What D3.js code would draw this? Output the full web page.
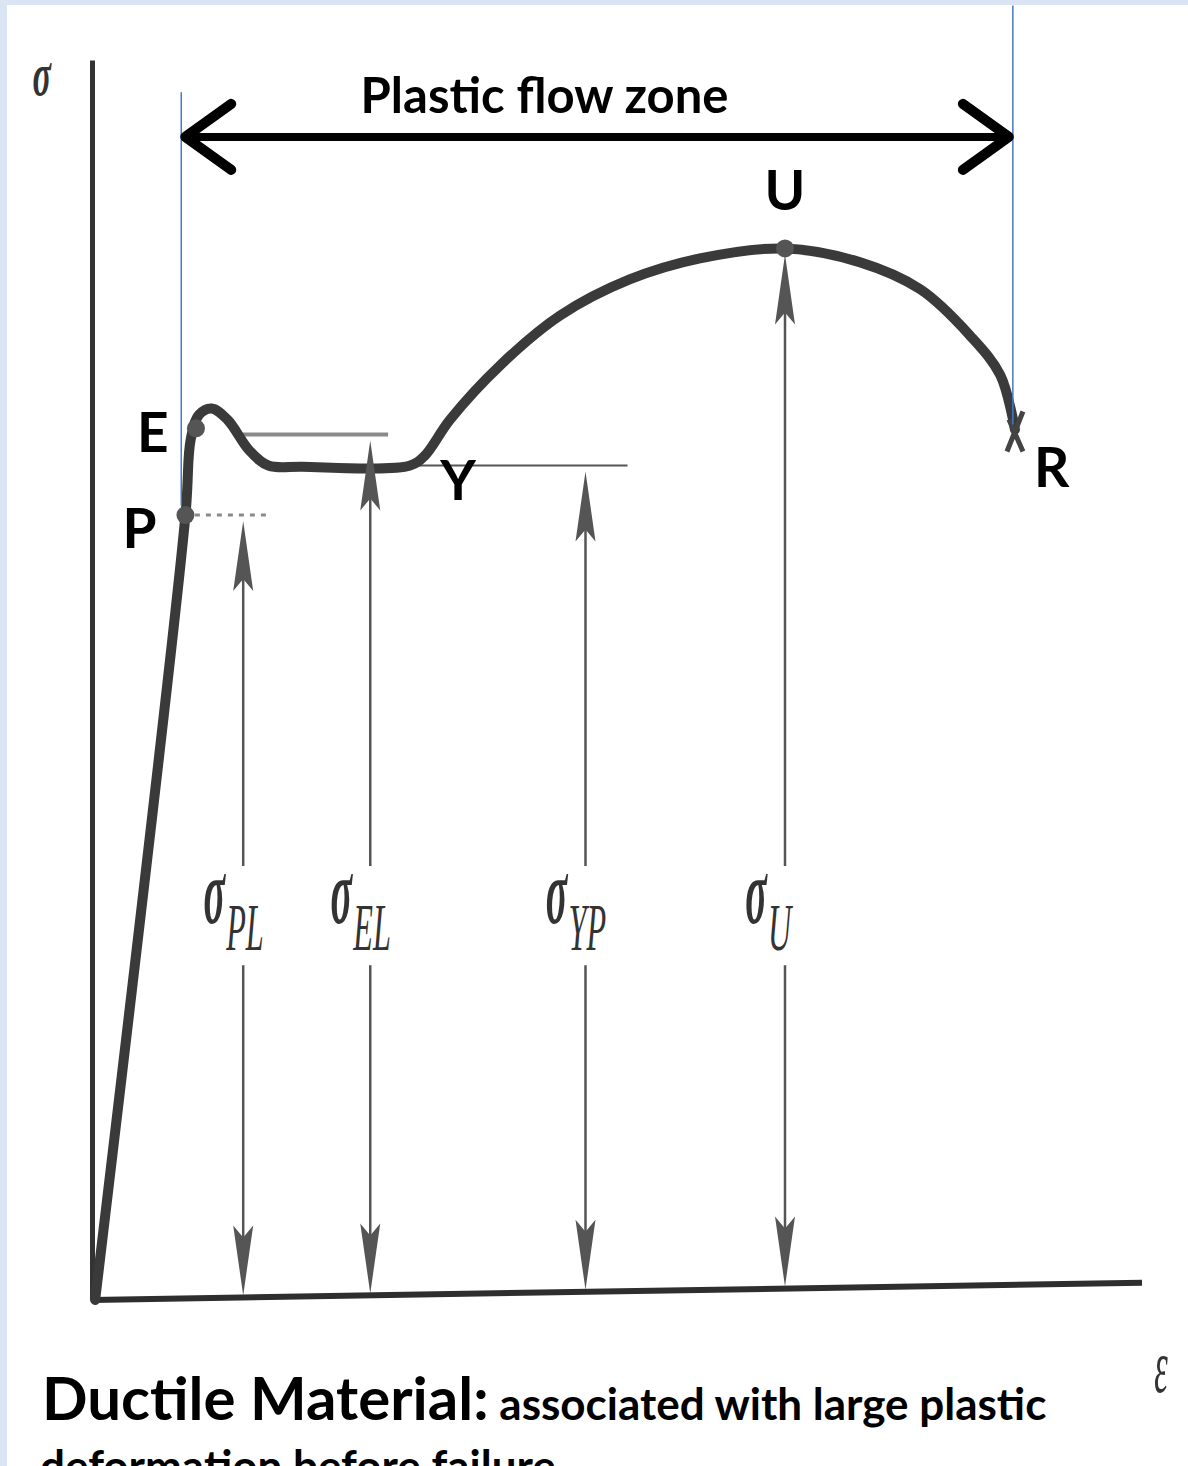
<!DOCTYPE html>
<html>
<head>
<meta charset="utf-8">
<script src="https://cdn.jsdelivr.net/npm/d3@7"></script>
<style>
  html, body { margin: 0; padding: 0; background: #dbe4f5; overflow: hidden; }
  svg { display: block; }
</style>
</head>
<body>
<div id="chart"></div>
<script>
// Stress-strain curve of a ductile material (strain, stress in arbitrary units)
const curveStrain = [0.3, 8.9, 9.4, 10.2, 11.4, 12.9, 15.0, 16.8, 20.0, 30.3, 31.7, 34.1, 38.9, 44.6, 51.2, 57.9, 66.0, 73.1, 78.9, 83.6, 86.5, 87.9];
const curveStress = [0, 63.3, 69.4, 71.4, 71.9, 71.0, 68.5, 67.3, 67.2, 67.3, 68.1, 71.0, 75.4, 79.4, 82.3, 84.0, 84.8, 83.7, 81.5, 77.8, 74.6, 70.2];

// Marked points on the curve
const pointNames = ['P', 'E', 'Y', 'U', 'R'];
const pointStrain = [8.9, 9.9, 30.3, 66.0, 87.9];
const pointStress = [63.3, 70.3, 67.3, 84.8, 70.2];

// Stress levels with their double arrows
const levelNames = ['PL', 'EL', 'YP', 'U'];
const levelStrain = [14.4, 26.5, 47.0, 66.0];
const levelStress = [63.3, 69.8, 67.3, 84.8];

// Plastic flow zone limits (strain)
const flowZone = [8.5, 87.7];
const flowLabel = 'Plastic flow zone';

const captionTitle = 'Ductile Material:';
const captionLine1 = ' associated with large plastic';
const captionLine2 = 'deformation before failure';

const width = 1188;
const height = 1466;

const svg = d3.select('#chart')
  .append('svg')
  .attr('width', width)
  .attr('height', height);

// light blue frame on the left and top, white page inside
svg.append('rect')
  .attr('x', 7).attr('y', 5)
  .attr('width', width - 7).attr('height', height - 5)
  .attr('fill', '#ffffff');

const x = d3.scaleLinear().domain([0, 100]).range([92, 1142]);
const y = d3.scaleLinear().domain([0, 100]).range([1300, 60]);

// strain axis leans up a little to the right in the scan
const axisLift = 1.4;
const axisY = s => y(axisLift * s / 100);

const ink = '#3a3a3a';
const serif = '"Liberation Serif", "DejaVu Serif", serif';
const sans = 'Lato, "Open Sans", sans-serif';

// stress axis
svg.append('g')
  .attr('transform', `translate(${x(0)},0)`)
  .call(d3.axisLeft(y).tickValues([]).tickSizeOuter(0))
  .call(g => g.select('.domain').attr('stroke', '#333').attr('stroke-width', 5));

// strain axis
svg.append('path')
  .datum([0, 100])
  .attr('d', d3.line().x(d => x(d)).y(d => axisY(d)))
  .attr('stroke', '#2e2e2e')
  .attr('stroke-width', 6)
  .attr('fill', 'none');

// axis symbols
svg.append('text')
  .attr('transform', `translate(${x(-4.8)},${y(97.2)}) scale(0.95,1.7)`)
  .attr('text-anchor', 'middle')
  .style('font-family', serif)
  .style('font-style', 'italic')
  .style('font-weight', 700)
  .style('font-size', '36px')
  .attr('fill', '#333')
  .text('σ');

svg.append('text')
  .attr('transform', `translate(${x(101.8)},${y(-7.4)}) scale(0.9,2.0)`)
  .attr('text-anchor', 'middle')
  .style('font-family', serif)
  .style('font-style', 'italic')
  .style('font-size', '38px')
  .attr('fill', '#333')
  .text('ε');

// horizontal reference lines at each stress level
const refLines = [
  { s: levelStress[0], x0: 9.8, x1: 17.1, dash: '5,6', w: 3, c: '#8a8a8a' },
  { s: levelStress[1], x0: 14.1, x1: 28.2, dash: null, w: 4, c: '#8a8a8a' },
  { s: levelStress[2], x0: 30.8, x1: 51.0, dash: null, w: 2, c: '#555' }
];
svg.selectAll('.ref')
  .data(refLines)
  .enter().append('line')
  .attr('class', 'ref')
  .attr('x1', d => x(d.x0)).attr('x2', d => x(d.x1))
  .attr('y1', d => y(d.s)).attr('y2', d => y(d.s))
  .attr('stroke', d => d.c)
  .attr('stroke-width', d => d.w)
  .attr('stroke-dasharray', d => d.dash);

// the curve
const curve = curveStrain.map((s, i) => ({ e: s, s: curveStress[i] }));
svg.append('path')
  .datum(curve)
  .attr('d', d3.line().x(d => x(d.e)).y(d => y(d.s)).curve(d3.curveCatmullRom.alpha(0.5)))
  .attr('fill', 'none')
  .attr('stroke', ink)
  .attr('stroke-width', 10)
  .attr('stroke-linecap', 'round')
  .attr('stroke-linejoin', 'round');

// dots at P, E, U
svg.selectAll('.dot')
  .data([0, 1, 3])
  .enter().append('circle')
  .attr('class', 'dot')
  .attr('cx', i => x(pointStrain[i]))
  .attr('cy', i => y(pointStress[i]))
  .attr('r', 9)
  .attr('fill', '#555');

// rupture cross at R
const rx = x(pointStrain[4]);
const ry = y(pointStress[4]);
svg.append('path')
  .attr('d', `M${rx - 8},${ry + 22} L${rx + 8},${ry - 18} M${rx - 6},${ry - 10} L${rx + 8},${ry + 22}`)
  .attr('stroke', '#444')
  .attr('stroke-width', 5)
  .attr('fill', 'none');

// double arrows from the axis up to each level, broken around the label
const gapTop = 35;
const gapBot = 27;
const headLen = 70;
const headHalf = 10;
levelNames.forEach((name, i) => {
  const lx = x(levelStrain[i]);
  const top = y(levelStress[i]) + 6;
  const bot = axisY(levelStrain[i]) - 2;
  const g = svg.append('g').attr('stroke', '#555').attr('fill', '#555');
  g.append('line').attr('x1', lx).attr('x2', lx).attr('y1', top + 20).attr('y2', y(gapTop)).attr('stroke-width', 2.5);
  g.append('line').attr('x1', lx).attr('x2', lx).attr('y1', y(gapBot)).attr('y2', bot - 20).attr('stroke-width', 2.5);
  g.append('path')
    .attr('d', `M${lx},${top} L${lx - headHalf},${top + headLen} L${lx},${top + headLen - 12} L${lx + headHalf},${top + headLen} Z`)
    .attr('stroke', 'none');
  g.append('path')
    .attr('d', `M${lx},${bot} L${lx - headHalf},${bot - headLen} L${lx},${bot - headLen + 12} L${lx + headHalf},${bot - headLen} Z`)
    .attr('stroke', 'none');

  // label sigma with subscript
  svg.append('text')
    .attr('transform', `translate(${lx - 29},${y(30.4)}) scale(0.95,2.2)`)
    .attr('text-anchor', 'middle')
    .style('font-family', serif)
    .style('font-style', 'italic')
    .style('font-weight', 700)
    .style('font-size', '42px')
    .attr('fill', '#333')
    .text('σ');
  svg.append('text')
    .attr('transform', `translate(${lx - 17},${y(28.2)}) scale(0.7,1.45)`)
    .style('font-family', serif)
    .style('font-style', 'italic')
    .style('font-size', '46px')
    .attr('fill', '#333')
    .text(name);
});

// blue limit lines of the plastic flow zone
svg.append('line')
  .attr('x1', x(flowZone[0])).attr('x2', x(flowZone[0]))
  .attr('y1', y(97.4)).attr('y2', y(64.1))
  .attr('stroke', '#4a78c4').attr('stroke-width', 1.5);
svg.append('line')
  .attr('x1', x(flowZone[1])).attr('x2', x(flowZone[1]))
  .attr('y1', y(104.4)).attr('y2', y(70.6))
  .attr('stroke', '#4a78c4').attr('stroke-width', 1.5);

// plastic flow zone double arrow
const ay = y(93.8);
const ax0 = x(flowZone[0]) + 4;
const ax1 = x(flowZone[1]) - 4;
const zone = svg.append('g')
  .attr('stroke', '#000')
  .attr('fill', 'none')
  .attr('stroke-linecap', 'round')
  .attr('stroke-linejoin', 'round');
zone.append('line').attr('x1', ax0).attr('x2', ax1).attr('y1', ay).attr('y2', ay).attr('stroke-width', 8);
zone.append('path').attr('d', `M${ax0 + 46},${ay - 33} L${ax0},${ay} L${ax0 + 46},${ay + 33}`).attr('stroke-width', 10);
zone.append('path').attr('d', `M${ax1 - 46},${ay - 33} L${ax1},${ay} L${ax1 - 46},${ay + 33}`).attr('stroke-width', 10);

svg.append('text')
  .attr('x', x(43.1))
  .attr('y', 113)
  .attr('text-anchor', 'middle')
  .style('font-family', sans)
  .style('font-weight', 700)
  .style('font-size', '49px')
  .text(flowLabel);

// point letters
const letterOffsets = [
  { dx: -63, dy: 33, anchor: 'start' },
  { dx: -59, dy: 24, anchor: 'start' },
  { dx: 48, dy: 35, anchor: 'middle' },
  { dx: 0, dy: -38, anchor: 'middle' },
  { dx: 19, dy: 57, anchor: 'start' }
];
svg.selectAll('.letter')
  .data(pointNames)
  .enter().append('text')
  .attr('class', 'letter')
  .attr('x', (d, i) => x(pointStrain[i]) + letterOffsets[i].dx)
  .attr('y', (d, i) => y(pointStress[i]) + letterOffsets[i].dy)
  .attr('text-anchor', (d, i) => letterOffsets[i].anchor)
  .style('font-family', sans)
  .style('font-weight', 700)
  .style('font-size', '55px')
  .text(d => d);

// caption
const cap = svg.append('text')
  .attr('x', 42)
  .attr('y', 1420)
  .style('font-family', sans)
  .style('font-weight', 700);
cap.append('tspan').style('font-size', '60px').text(captionTitle);
cap.append('tspan').style('font-size', '44px').text(captionLine1);

svg.append('text')
  .attr('x', 40)
  .attr('y', 1482)
  .style('font-family', sans)
  .style('font-weight', 700)
  .style('font-size', '44px')
  .text(captionLine2);
</script>
</body>
</html>
